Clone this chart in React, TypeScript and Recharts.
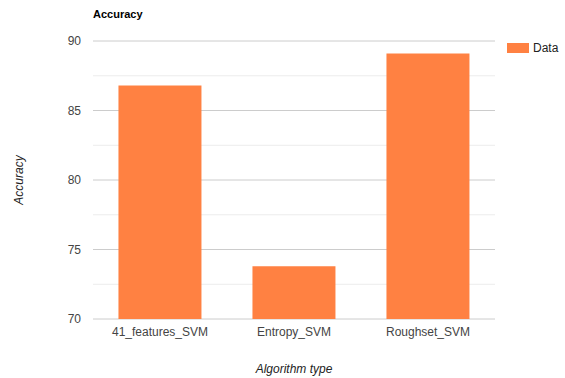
import React from 'react'
import { BarChart, Bar, XAxis, YAxis, CartesianGrid, Label } from 'recharts'

const algorithms = ['41_features_SVM', 'Entropy_SVM', 'Roughset_SVM']
const accuracy = [86.8, 73.8, 89.1]
const yTicks = [70, 75, 80, 85, 90]
const minorTicks = [72.5, 77.5, 82.5, 87.5]

const data = algorithms.map((name, i) => ({ name, value: accuracy[i] }))

const FONT = "Arial, 'Liberation Sans', sans-serif"
const BAR_COLOR = '#ff8142'

const App = () => {
    return (
        <div style={{ position: 'absolute', left: 0, top: 0, width: 565, height: 378, fontFamily: FONT, background: '#fff' }}>
            <div style={{ position: 'absolute', left: 93, top: 8, fontSize: 11, lineHeight: '13px', fontWeight: 'bold', color: '#000' }}>
                Accuracy
            </div>
            <BarChart
                width={565}
                height={378}
                data={data}
                margin={{ top: 41, right: 70, bottom: 0, left: 0 }}
                barCategoryGap="19%"
            >
                <CartesianGrid vertical={false} horizontalValues={minorTicks} stroke="#ececec" />
                <CartesianGrid vertical={false} stroke="#cccccc" />
                <XAxis
                    dataKey="name"
                    height={59}
                    axisLine={false}
                    tickLine={false}
                    tick={{ fill: '#444', fontSize: 12, fontFamily: FONT }}
                >
                    <Label
                        value="Algorithm type"
                        position="insideBottom"
                        offset={5}
                        style={{ fill: '#222', fontSize: 12, fontStyle: 'italic', fontFamily: FONT }}
                    />
                </XAxis>
                <YAxis
                    width={93}
                    domain={[70, 90]}
                    ticks={yTicks}
                    axisLine={false}
                    tickLine={false}
                    tickMargin={6}
                    tick={{ fill: '#444', fontSize: 12, fontFamily: FONT }}
                >
                    <Label
                        value="Accuracy"
                        angle={-90}
                        position="insideLeft"
                        offset={19}
                        style={{ fill: '#222', fontSize: 12, fontStyle: 'italic', fontFamily: FONT, textAnchor: 'middle' }}
                    />
                </YAxis>
                <Bar dataKey="value" fill={BAR_COLOR} isAnimationActive={false} />
            </BarChart>
            {/* legend */}
            <div style={{ position: 'absolute', left: 507, top: 41, display: 'flex', alignItems: 'center', fontSize: 12, color: '#222' }}>
                <span style={{ display: 'inline-block', width: 22, height: 10, background: BAR_COLOR }} />
                <span style={{ marginLeft: 4 }}>Data</span>
            </div>
        </div>
    )
}

export default App
